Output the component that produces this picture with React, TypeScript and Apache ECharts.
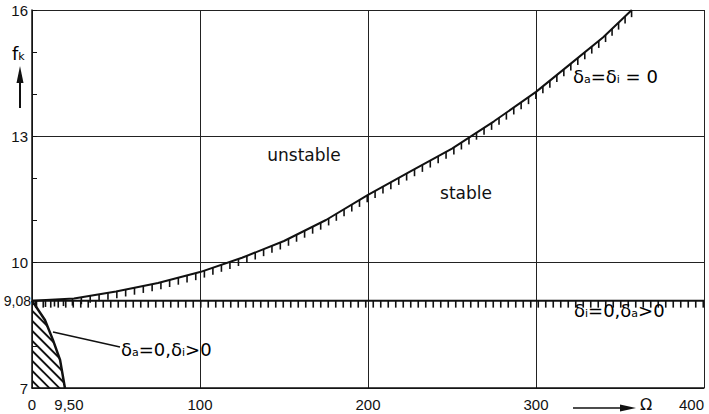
import React, { useEffect, useRef } from 'react';
import * as echarts from 'echarts';

// Axis ticks
const xTickValues = [0, 100, 200, 300, 400];
const yLabelValues = [7, 10, 13, 16];

// Stability boundary δa = δi = 0 (Ω, f_k)
const boundaryCurve: [number, number][] = [
  [0, 9.08], [25, 9.13], [50, 9.3], [75, 9.5], [100, 9.76], [125, 10.1],
  [150, 10.5], [175, 11.0], [200, 11.6], [225, 12.15], [250, 12.7],
  [275, 13.35], [300, 14.05], [320, 14.7], [340, 15.35], [357, 16],
];

// Boundary δi = 0, δa > 0 (horizontal line at f_k = 9.08)
const baseLine: [number, number][] = [[0, 9.08], [400, 9.08]];

// Shaded region boundary δa = 0, δi > 0
const regionCurve: [number, number][] = [
  [0, 9.08], [7.7, 8.62], [12.5, 8.14], [16.7, 7.67], [19.6, 7],
];

const FONT = 'DejaVu Sans';
const INK = '#111';

function tickLines(pts: number[][], step: number, len: number, lw: number) {
  const out: any[] = [];
  let carry = step / 2;
  for (let i = 0; i < pts.length - 1; i++) {
    const [x1, y1] = pts[i];
    const [x2, y2] = pts[i + 1];
    const segLen = Math.hypot(x2 - x1, y2 - y1);
    let d = carry;
    while (d <= segLen) {
      const t = d / segLen;
      const x = x1 + (x2 - x1) * t;
      const y = y1 + (y2 - y1) * t;
      out.push({
        type: 'line',
        shape: { x1: x, y1: y, x2: x, y2: y + len },
        style: { stroke: INK, lineWidth: lw },
      });
      d += step;
    }
    carry = d - segLen;
  }
  return out;
}

const richText = {
  m: { fontSize: 18, fontFamily: FONT, color: INK, lineHeight: 22, verticalAlign: 'bottom' },
  s: { fontSize: 11, fontFamily: FONT, color: INK, lineHeight: 12, verticalAlign: 'bottom' },
};

const tickFont = { color: INK, fontSize: 15, fontFamily: 'Liberation Sans' };

export default function App() {
  const ref = useRef<HTMLDivElement>(null);
  useEffect(() => {
    if (!ref.current) return;
    const chart = echarts.init(ref.current, null, { renderer: 'svg' });
    const option: any = {
      animation: false,
      backgroundColor: '#fff',
      grid: { left: 32, right: 5, top: 10, bottom: 26, containLabel: false },
      xAxis: {
        type: 'value',
        min: xTickValues[0],
        max: xTickValues[xTickValues.length - 1],
        interval: 100,
        axisLine: { show: true, lineStyle: { color: INK, width: 1.5 } },
        axisTick: { show: false },
        axisLabel: { ...tickFont, margin: 9, alignMaxLabel: 'right' },
        splitLine: { show: true, lineStyle: { color: '#222', width: 1 } },
      },
      yAxis: {
        type: 'value',
        min: 7,
        max: 16,
        interval: 3,
        axisLine: { show: true, lineStyle: { color: INK, width: 1.5 } },
        axisTick: { show: true, inside: true, length: 5, lineStyle: { color: INK } },
        minorTick: { show: true, splitNumber: 3, length: 5, lineStyle: { color: INK, width: 1 } },
        axisLabel: {
          ...tickFont, margin: 4,
          formatter: (v: number) => (yLabelValues.includes(v) ? String(v) : ''),
        },
        splitLine: { show: true, lineStyle: { color: '#222', width: 1 } },
      },
      series: [
        {
          type: 'line', name: 'δa=δi=0', data: boundaryCurve, symbol: 'none',
          lineStyle: { color: INK, width: 2 }, silent: true, z: 5,
        },
        {
          type: 'line', name: 'δi=0,δa>0', symbol: 'circle', symbolSize: 0, showSymbol: true,
          silent: true, z: 5,
          itemStyle: { color: INK },
          data: [
            { value: baseLine[0], label: { show: true, position: 'left', distance: 1, formatter: '9,08', ...tickFont, fontSize: 14 } },
            baseLine[1],
          ],
          lineStyle: { color: INK, width: 2 },
        },
        {
          type: 'line', name: 'δa=0,δi>0', symbol: 'circle', symbolSize: 0, showSymbol: true,
          silent: true, z: 6,
          itemStyle: { color: INK },
          data: regionCurve.map((p, i) =>
            i === regionCurve.length - 1
              ? { value: p, label: { show: true, position: 'bottom', distance: 9, formatter: '9,50', ...tickFont, offset: [4, 0] } }
              : p
          ),
          lineStyle: { color: INK, width: 2.5 },
        },
        {
          type: 'custom', silent: true, clip: false, z: 4,
          data: [[0, 9.08]],
          renderItem: (params: any, api: any) => {
            const curvePts = boundaryCurve.map((p) => api.coord(p));
            const basePts = baseLine.map((p) => api.coord(p));
            return {
              type: 'group',
              children: [
                ...tickLines(curvePts, 9, 7, 1.6),
                ...tickLines(basePts, 7.5, 7, 1.6),
              ],
            };
          },
        },
        {
          type: 'custom', silent: true, clip: false, z: 3,
          data: [[0, 7]],
          renderItem: (params: any, api: any) => {
            const poly = [...regionCurve.map((p) => api.coord(p)), api.coord([0, 7])];
            const [ox, oy] = api.coord([0, 9.08]);
            const lines: any[] = [];
            for (let c = -40; c < 140; c += 10) {
              lines.push({
                type: 'line',
                shape: { x1: ox - 20, y1: oy + c - 20, x2: ox + 120, y2: oy + c + 120 },
                style: { stroke: INK, lineWidth: 1.8 },
              });
            }
            return {
              type: 'group',
              clipPath: { type: 'polygon', shape: { points: poly } },
              children: lines,
            };
          },
        },
      ],
      graphic: [
        // f_k label with arrow
        { type: 'text', left: 12, top: 44, z: 10, style: { text: '{m|f}{s|k}', rich: richText } },
        { type: 'line', z: 10, shape: { x1: 20, y1: 108, x2: 20, y2: 76 }, style: { stroke: INK, lineWidth: 2 } },
        { type: 'polygon', z: 10, shape: { points: [[20, 66], [16.5, 83], [23.5, 83]] }, style: { fill: INK } },
        // Ω label with arrow
        { type: 'line', z: 10, shape: { x1: 573, y1: 408, x2: 626, y2: 408 }, style: { stroke: INK, lineWidth: 1.5 } },
        { type: 'polygon', z: 10, shape: { points: [[636, 408], [620, 404.5], [620, 411.5]] }, style: { fill: INK } },
        { type: 'text', x: 646, y: 404, z: 10, style: { text: 'Ω', font: `16px ${FONT}`, fill: INK, align: 'center', verticalAlign: 'middle' } },
        // region labels
        { type: 'text', x: 304, y: 155, z: 10, style: { text: 'unstable', font: `17px ${FONT}`, fill: INK, align: 'center', verticalAlign: 'middle' } },
        { type: 'text', x: 466, y: 193, z: 10, style: { text: 'stable', font: `17px ${FONT}`, fill: INK, align: 'center', verticalAlign: 'middle' } },
        { type: 'text', left: 573, top: 67, z: 10, style: { text: '{m|δ}{s|a}{m|=δ}{s|i}{m| = 0}', rich: richText } },
        { type: 'text', left: 574, top: 301, z: 10, style: { text: '{m|δ}{s|i}{m|=0,δ}{s|a}{m|>0}', rich: richText } },
        { type: 'text', left: 121, top: 340, z: 10, style: { text: '{m|δ}{s|a}{m|=0,δ}{s|i}{m|>0}', rich: richText } },
        // leader line
        { type: 'line', z: 10, shape: { x1: 53, y1: 332, x2: 120, y2: 347 }, style: { stroke: INK, lineWidth: 1.5 } },
      ],
    };
    chart.setOption(option);
    return () => chart.dispose();
  }, []);
  return (
    <div
      ref={ref}
      style={{ width: 709, height: 414, position: 'fixed', left: 0, top: 0 }}
    />
  );
}
